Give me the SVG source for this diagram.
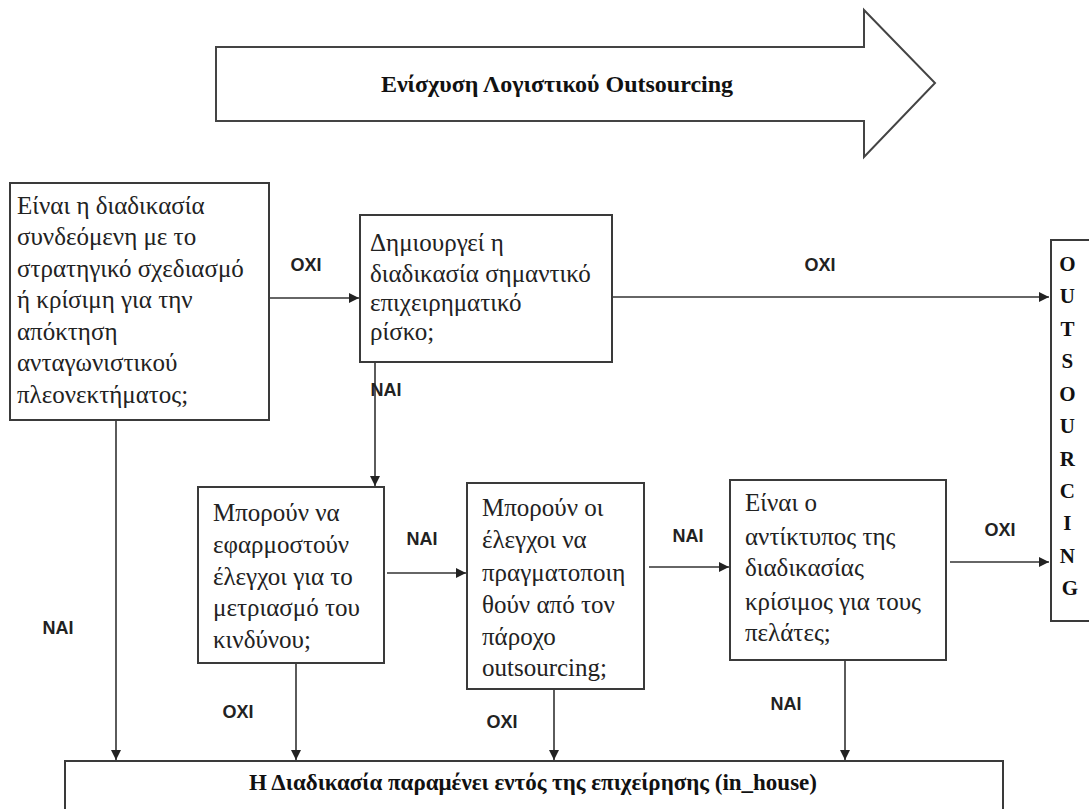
<svg xmlns="http://www.w3.org/2000/svg" width="1089" height="809" viewBox="0 0 1089 809">
<style>
.box{fill:#fff;stroke:#3a3a3a;stroke-width:2}
.t{font-family:"Liberation Serif","DejaVu Serif",serif;font-size:25px;fill:#222}
.b{font-family:"Liberation Serif","DejaVu Serif",serif;font-weight:bold;fill:#111}
.lab{font-family:"Liberation Sans",Arial,sans-serif;font-weight:bold;font-size:18px;fill:#222;text-anchor:middle}
.c{stroke:#333;stroke-width:1.6;fill:none}
</style>
<defs>
<marker id="ah" viewBox="0 0 10 10" refX="10" refY="5" markerWidth="10" markerHeight="10" markerUnits="userSpaceOnUse" orient="auto">
<path d="M0,0 L10,5 L0,10 z" fill="#222"/>
</marker>
</defs>
<rect width="1089" height="809" fill="#fff"/>
<g id="banner">
<path d="M216,47 L864,47 L864,10 L935,83 L864,157 L864,121 L216,121 Z" fill="#fff" stroke="#444" stroke-width="2"/>
<text class="b" x="557" y="92" font-size="24" text-anchor="middle">Ενίσχυση Λογιστικού Outsourcing</text>
</g>
<g id="connectors">
<line class="c" x1="270" y1="298" x2="359" y2="298" marker-end="url(#ah)"/>
<line class="c" x1="613" y1="297" x2="1049" y2="297" marker-end="url(#ah)"/>
<line class="c" x1="375" y1="363" x2="375" y2="486" marker-end="url(#ah)"/>
<line class="c" x1="387" y1="573" x2="466" y2="573" marker-end="url(#ah)"/>
<line class="c" x1="649" y1="567" x2="729" y2="567" marker-end="url(#ah)"/>
<line class="c" x1="950" y1="562" x2="1049" y2="562" marker-end="url(#ah)"/>
<line class="c" x1="116" y1="420" x2="116" y2="760" marker-end="url(#ah)"/>
<line class="c" x1="296" y1="664" x2="296" y2="760" marker-end="url(#ah)"/>
<line class="c" x1="554" y1="690" x2="554" y2="760" marker-end="url(#ah)"/>
<line class="c" x1="845" y1="661" x2="845" y2="760" marker-end="url(#ah)"/>
<text class="lab" x="306" y="271">ΟΧΙ</text>
<text class="lab" x="820" y="271">ΟΧΙ</text>
<text class="lab" x="386" y="396">ΝΑΙ</text>
<text class="lab" x="58" y="634">ΝΑΙ</text>
<text class="lab" x="422" y="545">ΝΑΙ</text>
<text class="lab" x="688" y="542">ΝΑΙ</text>
<text class="lab" x="1000" y="536">ΟΧΙ</text>
<text class="lab" x="238" y="718">ΟΧΙ</text>
<text class="lab" x="502" y="728">ΟΧΙ</text>
<text class="lab" x="786" y="710">ΝΑΙ</text>
</g>
<g id="q1">
<rect class="box" x="10" y="183" width="259" height="237"/>
<text class="t" x="17" y="214">Είναι η διαδικασία</text>
<text class="t" x="17" y="245">συνδεόμενη με το</text>
<text class="t" x="17" y="277">στρατηγικό σχεδιασμό</text>
<text class="t" x="17" y="308">ή κρίσιμη για την</text>
<text class="t" x="17" y="340">απόκτηση</text>
<text class="t" x="17" y="371">ανταγωνιστικού</text>
<text class="t" x="17" y="403">πλεονεκτήματος;</text>
</g>
<g id="q2">
<rect class="box" x="360" y="215" width="252" height="147"/>
<text class="t" x="370" y="251">Δημιουργεί η</text>
<text class="t" x="370" y="282">διαδικασία σημαντικό</text>
<text class="t" x="370" y="311">επιχειρηματικό</text>
<text class="t" x="370" y="340">ρίσκο;</text>
</g>
<g id="outsourcing">
<rect class="box" x="1051" y="240" width="50" height="381"/>
<text class="b" font-size="21" text-anchor="middle">
<tspan x="1070" y="271">O</tspan>
<tspan x="1070" y="303">U</tspan>
<tspan x="1070" y="336">T</tspan>
<tspan x="1070" y="368">S</tspan>
<tspan x="1070" y="401">O</tspan>
<tspan x="1070" y="433">U</tspan>
<tspan x="1070" y="466">R</tspan>
<tspan x="1070" y="498">C</tspan>
<tspan x="1070" y="530">I</tspan>
<tspan x="1070" y="563">N</tspan>
<tspan x="1070" y="595">G</tspan>
</text>
</g>
<g id="q3">
<rect class="box" x="198" y="487" width="186" height="176"/>
<text class="t" x="213" y="521">Μπορούν να</text>
<text class="t" x="213" y="553">εφαρμοστούν</text>
<text class="t" x="213" y="585">έλεγχοι για το</text>
<text class="t" x="213" y="616">μετριασμό του</text>
<text class="t" x="213" y="648">κινδύνου;</text>
</g>
<g id="q4">
<rect class="box" x="467" y="483" width="177" height="206"/>
<text class="t" x="482" y="516">Μπορούν οι</text>
<text class="t" x="482" y="548">έλεγχοι να</text>
<text class="t" x="482" y="581">πραγματοποιη</text>
<text class="t" x="482" y="613">θούν από τον</text>
<text class="t" x="482" y="645">πάροχο</text>
<text class="t" x="482" y="676">outsourcing;</text>
</g>
<g id="q5">
<rect class="box" x="730" y="480" width="216" height="180"/>
<text class="t" x="745" y="511">Είναι ο</text>
<text class="t" x="745" y="545">αντίκτυπος της</text>
<text class="t" x="745" y="576">διαδικασίας</text>
<text class="t" x="745" y="610">κρίσιμος για τους</text>
<text class="t" x="745" y="641">πελάτες;</text>
</g>
<g id="inhouse">
<rect class="box" x="65" y="761" width="938" height="60"/>
<text class="b" x="533" y="790" font-size="23" text-anchor="middle">Η Διαδικασία παραμένει εντός της επιχείρησης (in_house)</text>
</g>
</svg>
